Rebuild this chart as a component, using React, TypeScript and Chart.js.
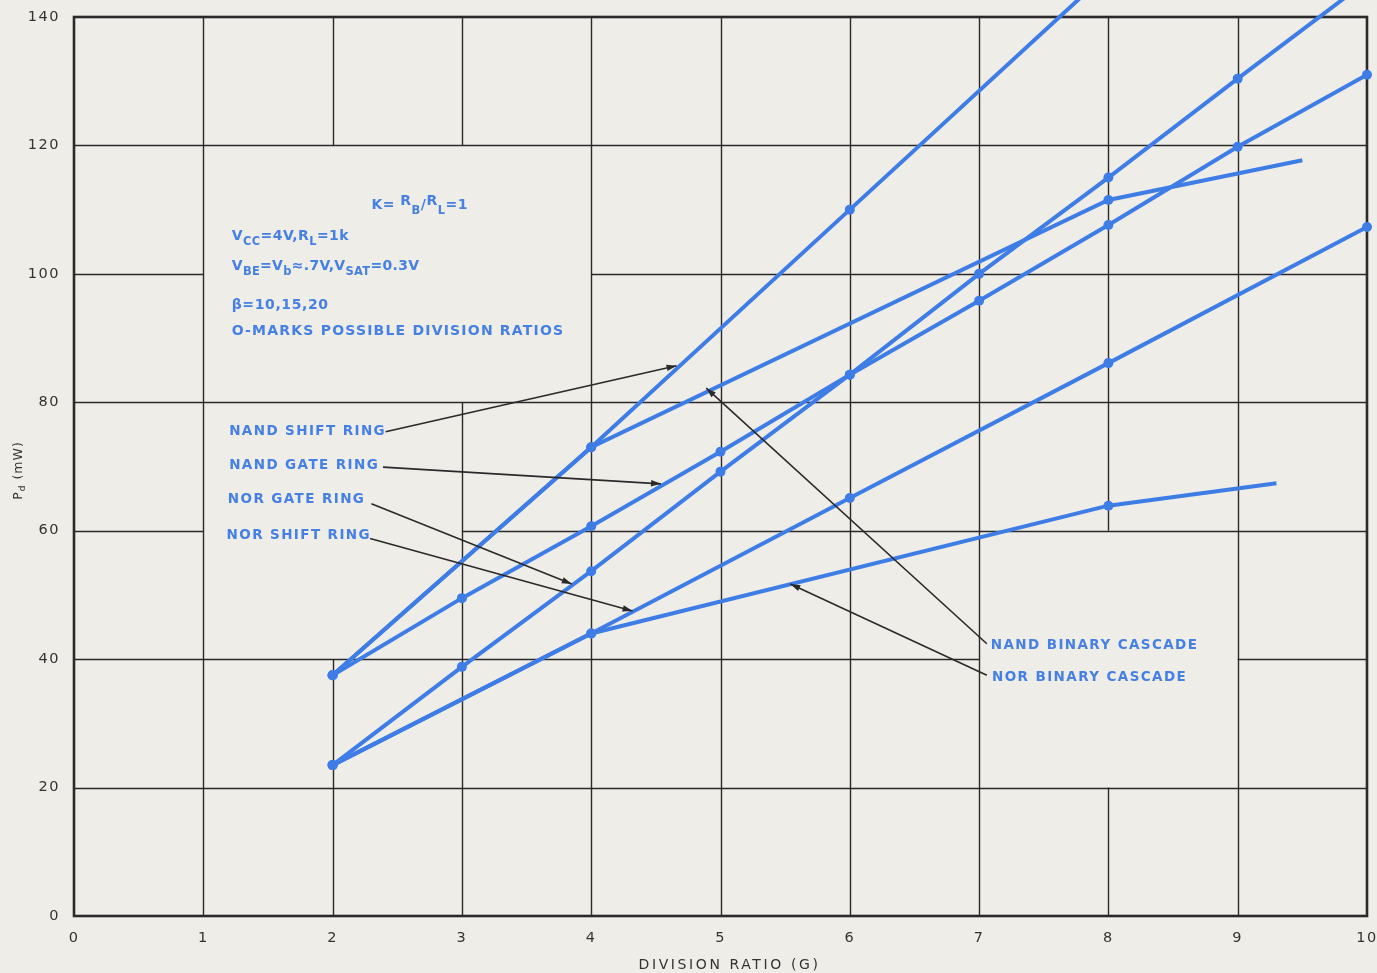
import React, { useEffect, useRef } from "react";
import { Chart, registerables } from "chart.js";

Chart.register(...registerables);

// ---- data ----
const xTickValues = [0, 1, 2, 3, 4, 5, 6, 7, 8, 9, 10];
const yTickValues = [0, 20, 40, 60, 80, 100, 120, 140];

const nandShiftX = [2, 4, 6, 8];
const nandShiftY = [37.5, 73, 110, 147];

const nandGateX = [2, 3, 4, 5, 6, 7, 8, 9, 10];
const nandGateY = [37.5, 49.5, 60.7, 72.3, 84.3, 95.8, 107.6, 119.8, 131];

const norGateX = [2, 3, 4, 5, 6, 7, 8, 9, 10];
const norGateY = [23.5, 38.8, 53.7, 69.2, 84.3, 100, 115, 130.4, 145.6];

const norShiftX = [2, 4, 6, 8, 10];
const norShiftY = [23.5, 44, 65.1, 86.1, 107.3];

const nandBinaryX = [2, 4, 8, 9.5];
const nandBinaryY = [37.5, 73, 111.5, 117.7];

const norBinaryX = [2, 4, 8, 9.3];
const norBinaryY = [23.5, 44, 63.9, 67.4];

const binaryMarked = [true, true, true, false];

const curveNames = [
  "NAND SHIFT RING",
  "NAND GATE RING",
  "NOR GATE RING",
  "NOR SHIFT RING",
  "NAND BINARY CASCADE",
  "NOR BINARY CASCADE",
];

const xTitle = "DIVISION RATIO (G)";

// drafting-paper grid: which stretches of each rule are printed (data units)
const verticalRules: [number, [number, number][]][] = [
  [1, [[0, 140]]],
  [2, [[120, 140], [0, 40]]],
  [3, [[120, 140], [0, 80]]],
  [4, [[0, 140]]],
  [5, [[0, 140]]],
  [6, [[0, 140]]],
  [7, [[0, 140]]],
  [8, [[60, 140], [0, 20]]],
  [9, [[0, 140]]],
];
const horizontalRules: [number, [number, number][]][] = [
  [20, [[0, 10]]],
  [40, [[0, 7], [9, 10]]],
  [60, [[0, 1], [3, 10]]],
  [80, [[0, 10]]],
  [100, [[0, 1], [4, 10]]],
  [120, [[0, 10]]],
];

// ---- layout of labels / arrows (data coordinates) ----
const labelPlacement = [
  { x: 1.2, y: 75.4, sx: 2.41, sy: 75.4, ex: 4.66, ey: 85.7 },
  { x: 1.2, y: 70.2, sx: 2.39, sy: 69.9, ex: 4.54, ey: 67.3 },
  { x: 1.19, y: 64.8, sx: 2.3, sy: 64.2, ex: 3.85, ey: 51.7 },
  { x: 1.18, y: 59.2, sx: 2.29, sy: 58.8, ex: 4.32, ey: 47.5 },
  { x: 7.09, y: 42.1, sx: 7.06, sy: 42.4, ex: 4.89, ey: 82.2 },
  { x: 7.1, y: 37.2, sx: 7.06, sy: 37.5, ex: 5.54, ey: 51.7 },
];

type Part = [string, number]; // 0 normal, 1 subscript, 2 raised
const noteLines: { x: number; y: number; spacing: number; parts: Part[] }[] = [
  { x: 2.3, y: 110.6, spacing: 0.5, parts: [["K= ", 0], ["R", 2], ["B", 1], ["/", 0], ["R", 2], ["L", 1], ["=1", 0]] },
  { x: 1.22, y: 105.8, spacing: 0.4, parts: [["V", 0], ["CC", 1], ["=4V,R", 0], ["L", 1], ["=1k", 0]] },
  { x: 1.22, y: 101.1, spacing: 0.3, parts: [["V", 0], ["BE", 1], ["=V", 0], ["b", 1], ["≈.7V,V", 0], ["SAT", 1], ["=0.3V", 0]] },
  { x: 1.22, y: 95.1, spacing: 0.6, parts: [["β=10,15,20", 0]] },
  { x: 1.22, y: 91.0, spacing: 1.2, parts: [["O-MARKS POSSIBLE DIVISION RATIOS", 0]] },
];

const LINE_BLUE = "#3f7de6";
const TEXT_BLUE = "#4580e2";
const INK = "#2a2a2a";
const PAPER = "#efede8";

function toPoints(xs: number[], ys: number[]) {
  return xs.map((x, i) => ({ x, y: ys[i] }));
}

function drawParts(ctx: CanvasRenderingContext2D, parts: Part[], x: number, y: number, size: number) {
  let cx = x;
  for (const [t, mode] of parts) {
    const s = mode === 1 ? size * 0.82 : size;
    ctx.font = `bold ${s}px "DejaVu Sans"`;
    const dy = mode === 1 ? size * 0.4 : mode === 2 ? -size * 0.3 : 0;
    ctx.fillText(t, cx, y + dy);
    cx += ctx.measureText(t).width;
  }
}

const gridPlugin = {
  id: "paperGrid",
  beforeDraw(chart: any) {
    const ctx: CanvasRenderingContext2D = chart.ctx;
    ctx.save();
    ctx.fillStyle = PAPER;
    ctx.fillRect(0, 0, chart.width, chart.height);
    ctx.restore();
    ctx.letterSpacing = "1.5px";
  },
  beforeDatasetsDraw(chart: any) {
    const ctx: CanvasRenderingContext2D = chart.ctx;
    const xs = chart.scales.x;
    const ys = chart.scales.y;
    ctx.save();
    ctx.strokeStyle = INK;
    ctx.lineWidth = 1.4;
    ctx.lineCap = "butt";
    verticalRules.forEach(([xv, spans]) => {
      const px = Math.round(xs.getPixelForValue(xv)) + 0.5;
      spans.forEach(([a, b]) => {
        ctx.beginPath();
        ctx.moveTo(px, ys.getPixelForValue(a));
        ctx.lineTo(px, ys.getPixelForValue(b));
        ctx.stroke();
      });
    });
    horizontalRules.forEach(([yv, spans]) => {
      const py = Math.round(ys.getPixelForValue(yv)) + 0.5;
      spans.forEach(([a, b]) => {
        ctx.beginPath();
        ctx.moveTo(xs.getPixelForValue(a), py);
        ctx.lineTo(xs.getPixelForValue(b), py);
        ctx.stroke();
      });
    });
    // frame
    const { left, right, top, bottom } = chart.chartArea;
    ctx.lineWidth = 2.6;
    ctx.strokeRect(left, top, right - left, bottom - top);
    ctx.restore();
  },
  afterDraw(chart: any) {
    const ctx: CanvasRenderingContext2D = chart.ctx;
    const xs = chart.scales.x;
    const ys = chart.scales.y;
    ctx.save();

    // curve labels + arrows
    ctx.letterSpacing = "1.4px";
    ctx.textBaseline = "middle";
    ctx.textAlign = "left";
    curveNames.forEach((name, i) => {
      const p = labelPlacement[i];
      ctx.fillStyle = TEXT_BLUE;
      ctx.font = `bold 13.5px "DejaVu Sans"`;
      ctx.fillText(name, xs.getPixelForValue(p.x), ys.getPixelForValue(p.y));
      const x0 = xs.getPixelForValue(p.sx);
      const y0 = ys.getPixelForValue(p.sy);
      const x1 = xs.getPixelForValue(p.ex);
      const y1 = ys.getPixelForValue(p.ey);
      ctx.strokeStyle = INK;
      ctx.lineWidth = 1.6;
      ctx.beginPath();
      ctx.moveTo(x0, y0);
      ctx.lineTo(x1, y1);
      ctx.stroke();
      const ang = Math.atan2(y1 - y0, x1 - x0);
      const L = 10;
      const W = 3.2;
      ctx.fillStyle = INK;
      ctx.beginPath();
      ctx.moveTo(x1, y1);
      ctx.lineTo(x1 - L * Math.cos(ang) + W * Math.sin(ang), y1 - L * Math.sin(ang) - W * Math.cos(ang));
      ctx.lineTo(x1 - L * Math.cos(ang) - W * Math.sin(ang), y1 - L * Math.sin(ang) + W * Math.cos(ang));
      ctx.closePath();
      ctx.fill();
    });

    // notes
    ctx.fillStyle = TEXT_BLUE;
    noteLines.forEach((n) => {
      ctx.letterSpacing = `${n.spacing}px`;
      drawParts(ctx, n.parts, xs.getPixelForValue(n.x), ys.getPixelForValue(n.y), 14);
    });

    // x-axis title
    ctx.fillStyle = "#333";
    ctx.letterSpacing = "2.6px";
    ctx.font = `14px "DejaVu Sans"`;
    ctx.textAlign = "center";
    ctx.fillText(xTitle, (xs.left + xs.right) / 2 + 9, chart.height - 8);

    // y-axis title with subscript
    ctx.textAlign = "left";
    ctx.letterSpacing = "1px";
    ctx.translate(19, (ys.top + ys.bottom) / 2 + 4);
    ctx.rotate(-Math.PI / 2);
    ctx.font = `12.5px "DejaVu Sans"`;
    const w1 = ctx.measureText("P").width;
    ctx.font = `9px "DejaVu Sans"`;
    const w2 = ctx.measureText("d").width;
    ctx.font = `12.5px "DejaVu Sans"`;
    const w3 = ctx.measureText(" (mW)").width;
    let cx = -(w1 + w2 + w3) / 2;
    ctx.fillText("P", cx, 0);
    cx += w1;
    ctx.font = `9px "DejaVu Sans"`;
    ctx.fillText("d", cx, 4);
    cx += w2;
    ctx.font = `12.5px "DejaVu Sans"`;
    ctx.fillText(" (mW)", cx, 0);

    ctx.restore();
    ctx.letterSpacing = "0px";
  },
};

function lineDataset(label: string, xs: number[], ys: number[], marked?: boolean[]) {
  return {
    label,
    data: toPoints(xs, ys),
    borderColor: LINE_BLUE,
    backgroundColor: LINE_BLUE,
    borderWidth: 4,
    pointRadius: marked ? marked.map((m) => (m ? 5 : 0)) : 5,
    pointBorderWidth: 0,
    pointBackgroundColor: LINE_BLUE,
    tension: 0,
    clip: false as any,
  };
}

export default function App() {
  const ref = useRef<HTMLCanvasElement | null>(null);

  useEffect(() => {
    document.body.style.margin = "0";
    document.body.style.background = PAPER;
    if (!ref.current) return;
    const chart = new Chart(ref.current, {
      type: "line",
      data: {
        datasets: [
          lineDataset(curveNames[0], nandShiftX, nandShiftY),
          lineDataset(curveNames[1], nandGateX, nandGateY),
          lineDataset(curveNames[2], norGateX, norGateY),
          lineDataset(curveNames[3], norShiftX, norShiftY),
          lineDataset(curveNames[4], nandBinaryX, nandBinaryY, binaryMarked),
          lineDataset(curveNames[5], norBinaryX, norBinaryY, binaryMarked),
        ] as any,
      },
      options: {
        animation: false,
        responsive: false,
        events: [],
        layout: { padding: { top: 17, right: 10, left: 0, bottom: 0 } },
        plugins: {
          legend: { display: false },
          tooltip: { enabled: false },
          title: { display: false },
        },
        scales: {
          x: {
            type: "linear",
            min: 0,
            max: 10,
            offset: false,
            afterBuildTicks: (s: any) => {
              s.ticks = xTickValues.map((v) => ({ value: v }));
            },
            afterFit: (s: any) => {
              s.height = 57;
              s.paddingLeft = 0;
              s.paddingRight = 0;
            },
            grid: { display: false, drawTicks: false },
            border: { display: false },
            ticks: {
              padding: 14,
              color: "#333",
              font: { family: "DejaVu Sans", size: 14.5 },
              maxRotation: 0,
            },
            title: { display: false, text: xTitle },
          },
          y: {
            type: "linear",
            min: 0,
            max: 140,
            afterBuildTicks: (s: any) => {
              s.ticks = yTickValues.map((v) => ({ value: v }));
            },
            afterFit: (s: any) => {
              s.width = 74;
              s.paddingTop = 0;
              s.paddingBottom = 0;
            },
            grid: { display: false, drawTicks: false },
            border: { display: false },
            ticks: {
              padding: 14,
              color: "#333",
              font: { family: "DejaVu Sans", size: 14.5 },
            },
          },
        },
      },
      plugins: [gridPlugin],
    });
    return () => chart.destroy();
  }, []);

  return (
    <div style={{ width: 1377, height: 973, background: PAPER }}>
      <canvas ref={ref} width={1377} height={973} style={{ display: "block" }} />
    </div>
  );
}
